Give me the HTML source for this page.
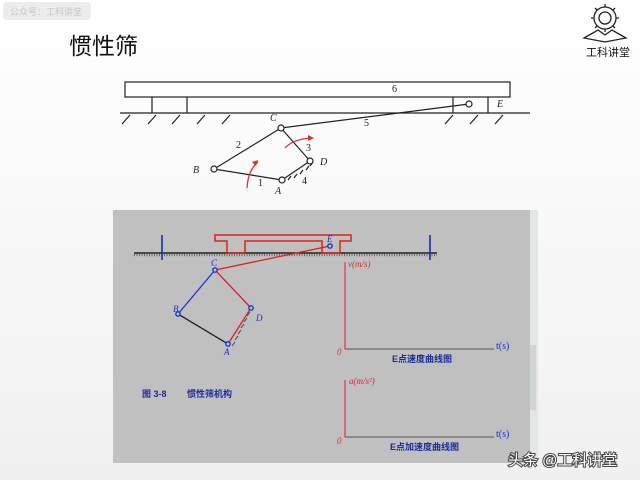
<!DOCTYPE html>
<html><head><meta charset="utf-8"><style>
html,body{margin:0;padding:0;background:#fff;width:640px;height:480px;overflow:hidden}
body{position:relative;font-family:"Liberation Sans","Noto Sans CJK SC",sans-serif}
</style></head><body>
<svg width="640" height="480" viewBox="0 0 640 480" xmlns="http://www.w3.org/2000/svg" style="position:absolute;left:0;top:0">
<defs>
<linearGradient id="bg" x1="0" y1="0" x2="0" y2="1"><stop offset="0" stop-color="#fff"/><stop offset="1" stop-color="#f0f0f0"/></linearGradient>
</defs>
<rect width="640" height="480" fill="url(#bg)"/>
<rect x="3" y="2" width="88" height="18" rx="4" fill="#ececec"/>
<text x="10" y="15" font-size="9" fill="#c4c4c4" font-family="Liberation Sans,Noto Sans CJK SC,sans-serif">公众号：工科讲堂</text>
<text x="69" y="54" font-size="23" fill="#111" font-family="Liberation Sans,Noto Sans CJK SC,sans-serif">惯性筛</text>
<g stroke="#222" fill="none" stroke-width="1.3">
<circle cx="605" cy="18" r="11"/><circle cx="605" cy="18" r="6"/>
<path d="M605 4v3M605 29v3M591 18h3M616 18h3M595 8l2 2M613 26l2 2M615 8l-2 2M595 28l2-2"/>
<path d="M584 38 L598 30 L605 35 L612 30 L626 38 L605 42 Z"/>
</g>
<text x="586" y="56" font-size="11" fill="#111" font-family="Liberation Sans,Noto Sans CJK SC,sans-serif">工科讲堂</text>

<g stroke="#222" stroke-width="1.2" fill="none">
<rect x="125" y="82" width="385" height="15" fill="#fff"/>
<path d="M152 97V113M187 97V113M453 97V113M488 97V113"/>
<path d="M120 113H530"/>
<path d="M122 124l8-9M148 124l8-9M172 124l8-9M197 124l8-9M222 124l8-9M445 124l8-9M470 124l8-9M495 124l8-9"/>
<path d="M469 104L281 128L214 169L282 180L310 161L281 128"/>
<path d="M288 180l3-4M294 178l3-4M300 174l3-4M306 170l3-4M310 166l3-4"/>
</g>
<g fill="#fff" stroke="#222" stroke-width="1.2">
<circle cx="469" cy="104" r="3"/><circle cx="281" cy="128" r="3"/><circle cx="214" cy="169" r="3"/><circle cx="282" cy="180" r="3"/><circle cx="310" cy="161" r="3"/>
</g>
<g fill="none" stroke="#e03030" stroke-width="1.3">
<path d="M247 188 Q248 170 258 162"/><path d="M285 148 Q293 139 312 138"/>
</g>
<path d="M258 160l-6 2 4 4z M314 138l-6-3 0 6z" fill="#e03030"/>
<g font-family="Liberation Serif,serif" font-style="italic" font-size="10" fill="#222">
<text x="270" y="121">C</text><text x="236" y="148" font-style="normal">2</text><text x="306" y="151" font-style="normal">3</text>
<text x="320" y="165">D</text><text x="193" y="173">B</text><text x="258" y="186" font-style="normal">1</text>
<text x="275" y="194">A</text><text x="302" y="184" font-style="normal">4</text><text x="364" y="126" font-style="normal">5</text>
<text x="392" y="92" font-style="normal">6</text><text x="497" y="107">E</text>
</g>

<rect x="113" y="210" width="417" height="253" fill="#c0c0c0"/>
<rect x="530" y="210" width="8" height="253" fill="#e2e6e4"/>
<rect x="530" y="345" width="6" height="65" fill="#cdd6d2"/>
<path d="M134 253H437" stroke="#222" stroke-width="1.5"/>
<path d="M134 255H437" stroke="#666" stroke-width="2.5" stroke-dasharray="1 1.5"/>
<path d="M162 235V260M430 235V260" stroke="#1030c0" stroke-width="1.6"/>
<path d="M215 235H351V241H340V253H322V241H245V253H227V241H215Z" fill="none" stroke="#e02020" stroke-width="1.5"/>
<path d="M330 246L215 270L251 308L228 344" fill="none" stroke="#e02020" stroke-width="1.3"/>
<path d="M215 270L178 314" stroke="#2030d0" stroke-width="1.3"/>
<path d="M178 314L228 344" stroke="#111" stroke-width="1.3"/>
<path d="M232 346l3-4M235 340l3-4M238 334l3-4M241 328l3-4M244 322l3-4M247 316l3-4" stroke="#444" stroke-width="1"/>
<g fill="#c0c0c0" stroke="#1030d0" stroke-width="1.3">
<circle cx="330" cy="246" r="2.2"/><circle cx="215" cy="270" r="2.2"/><circle cx="178" cy="314" r="2.2"/><circle cx="228" cy="344" r="2.2"/><circle cx="251" cy="308" r="2.2"/>
</g>
<g font-family="Liberation Serif,serif" font-style="italic" font-size="9" fill="#2030c0">
<text x="211" y="266">C</text><text x="173" y="312">B</text><text x="224" y="355">A</text><text x="256" y="321">D</text><text x="327" y="242">E</text>
</g>
<path d="M345 262V349H494M345 380V437H494" fill="none" stroke="#e02020" stroke-width="1"/>
<path d="M346 349H494M346 437H494" stroke="#555" stroke-width="1"/>
<g font-family="Liberation Serif,serif" font-style="italic" font-size="9" fill="#d03030">
<text x="348" y="267">v(m/s)</text><text x="337" y="355">0</text>
<text x="349" y="384">a(m/s²)</text><text x="337" y="444">0</text>
</g>
<g font-family="Liberation Serif,serif" font-size="10" fill="#2030c0">
<text x="496" y="349">t(s)</text><text x="496" y="437">t(s)</text>
</g>
<g font-family="Liberation Sans,Noto Sans CJK SC,sans-serif" font-size="9" font-weight="bold" fill="#1a2a9a">
<text x="392" y="362">E点速度曲线图</text>
<text x="390" y="450">E点加速度曲线图</text>
<text x="142" y="397">图 3-8</text>
<text x="187" y="397">惯性筛机构</text>
</g>
<text x="508" y="465" font-size="15" fill="#fff" stroke="#444" stroke-width="2" paint-order="stroke" font-family="Liberation Sans,Noto Sans CJK SC,sans-serif">头条 @工科讲堂</text>
</svg>
</body></html>
